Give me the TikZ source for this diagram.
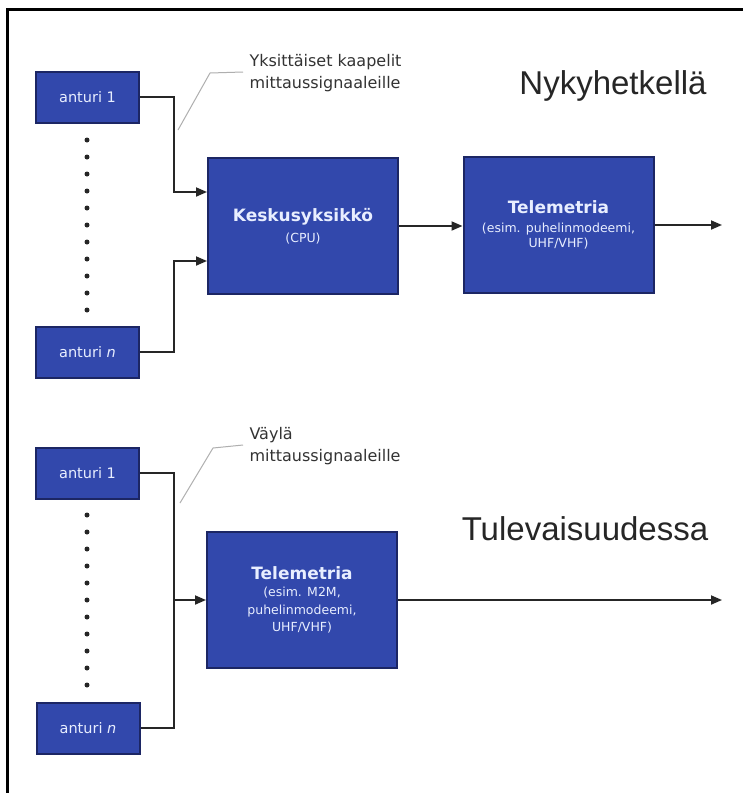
\documentclass[tikz,border=0pt]{standalone}
\usepackage{fontspec}
\setmainfont{DejaVu Sans}
\newfontfamily\titlefont{Liberation Sans}
\usetikzlibrary{arrows.meta}
\definecolor{boxfill}{RGB}{50,72,172}
\definecolor{boxedge}{RGB}{28,38,100}
\definecolor{boxtext}{RGB}{232,238,255}
\definecolor{leadgray}{RGB}{175,175,175}
\newcommand\boxhead{\bfseries\fontsize{17}{20}\selectfont}
\tikzset{
  unit/.style={draw=boxedge, fill=boxfill, line width=2pt, text=boxtext, inner sep=0pt, align=center},
  sensor/.style={unit, minimum width=103pt, minimum height=51pt, font=\fontsize{14.5}{16}\selectfont},
  bigbox/.style={unit, minimum width=190pt, minimum height=136pt, font=\fontsize{12.5}{17.5}\selectfont},
  conn/.style={line width=1.8pt, draw=black!85},
  arr/.style={conn, -{Triangle[length=11pt,width=9pt]}},
  leader/.style={draw=leadgray, line width=1pt},
  dotmark/.style={circle, fill=black!85, inner sep=0pt, minimum size=5pt},
  callout/.style={align=left, anchor=west, text=black!80, font=\fontsize{16}{22}\selectfont},
  title/.style={font=\titlefont\fontsize{33}{36}\selectfont, text=black!85}
}
\begin{document}
\begin{tikzpicture}[x=1pt, y=-1pt]
\useasboundingbox (0,0) rectangle (743,793);
\fill[white] (0,0) rectangle (743,793);
% frame
\coordinate (f1) at (7,793);
\coordinate (f2) at (7,9);
\coordinate (f3) at (743,9);
\draw[line width=3pt, black] (f1) -- (f2) -- (f3);

% ---------- top section ----------
\node[sensor] (a1t) at (87.5,97) {anturi 1};
\node[sensor] (ant) at (87.5,352) {anturi \textit{n}};
\foreach \i in {0,...,10} {
  \node[dotmark] (dt\i) at (87,140+17*\i) {};
}
\node[bigbox] (cpu) at (303,226) {{\boxhead Keskusyksikkö}\\[3pt](CPU)};
\node[bigbox] (tel1) at (558.5,225) {{\boxhead Telemetria}\\[1pt](esim. puhelinmodeemi,\\[-2pt]UHF/VHF)};
\coordinate (j1) at (174,192);
\coordinate (j2) at (174,261);
\draw[arr] (a1t.east) -| (j1) -- (j1 -| cpu.west);
\draw[arr] (ant.east) -| (j2) -- (j2 -| cpu.west);
\draw[arr] (cpu.east) -- (cpu.east -| tel1.west);
\coordinate (o1) at (722,225);
\draw[arr] (tel1.east) -- (o1);

\node[callout] (c1) at (246,73) {Yksittäiset kaapelit\\mittaussignaaleille};
\coordinate (l1a) at (243,72);
\coordinate (l1b) at (210,73);
\coordinate (l1c) at (178,130);
\draw[leader] (l1a) -- (l1b) -- (l1c);
\node[title] (t1) at (613,86) {Nykyhetkellä};

% ---------- bottom section ----------
\node[sensor] (a1b) at (87.5,473) {anturi 1};
\node[sensor] (anb) at (88,728) {anturi \textit{n}};
\foreach \i in {0,...,10} {
  \node[dotmark] (db\i) at (87,515+17*\i) {};
}
\node[bigbox] (tel2) at (302,600) {{\boxhead Telemetria}\\(esim. M2M,\\puhelinmodeemi,\\UHF/VHF)};
\coordinate (b1) at (174,473);
\coordinate (b2) at (174,728);
\coordinate (b3) at (174,600);
\draw[conn] (a1b.east) -- (b1) -- (b2) -- (anb.east);
\draw[arr] (b3) -- (tel2.west);
\coordinate (o2) at (722,600);
\draw[arr] (tel2.east) -- (o2);

\node[callout] (c2) at (246,446) {Väylä\\mittaussignaaleille};
\coordinate (l2a) at (243,445);
\coordinate (l2b) at (213,448);
\coordinate (l2c) at (180,503);
\draw[leader] (l2a) -- (l2b) -- (l2c);
\node[title] (t2) at (585,529) {Tulevaisuudessa};
\end{tikzpicture}
\end{document}
